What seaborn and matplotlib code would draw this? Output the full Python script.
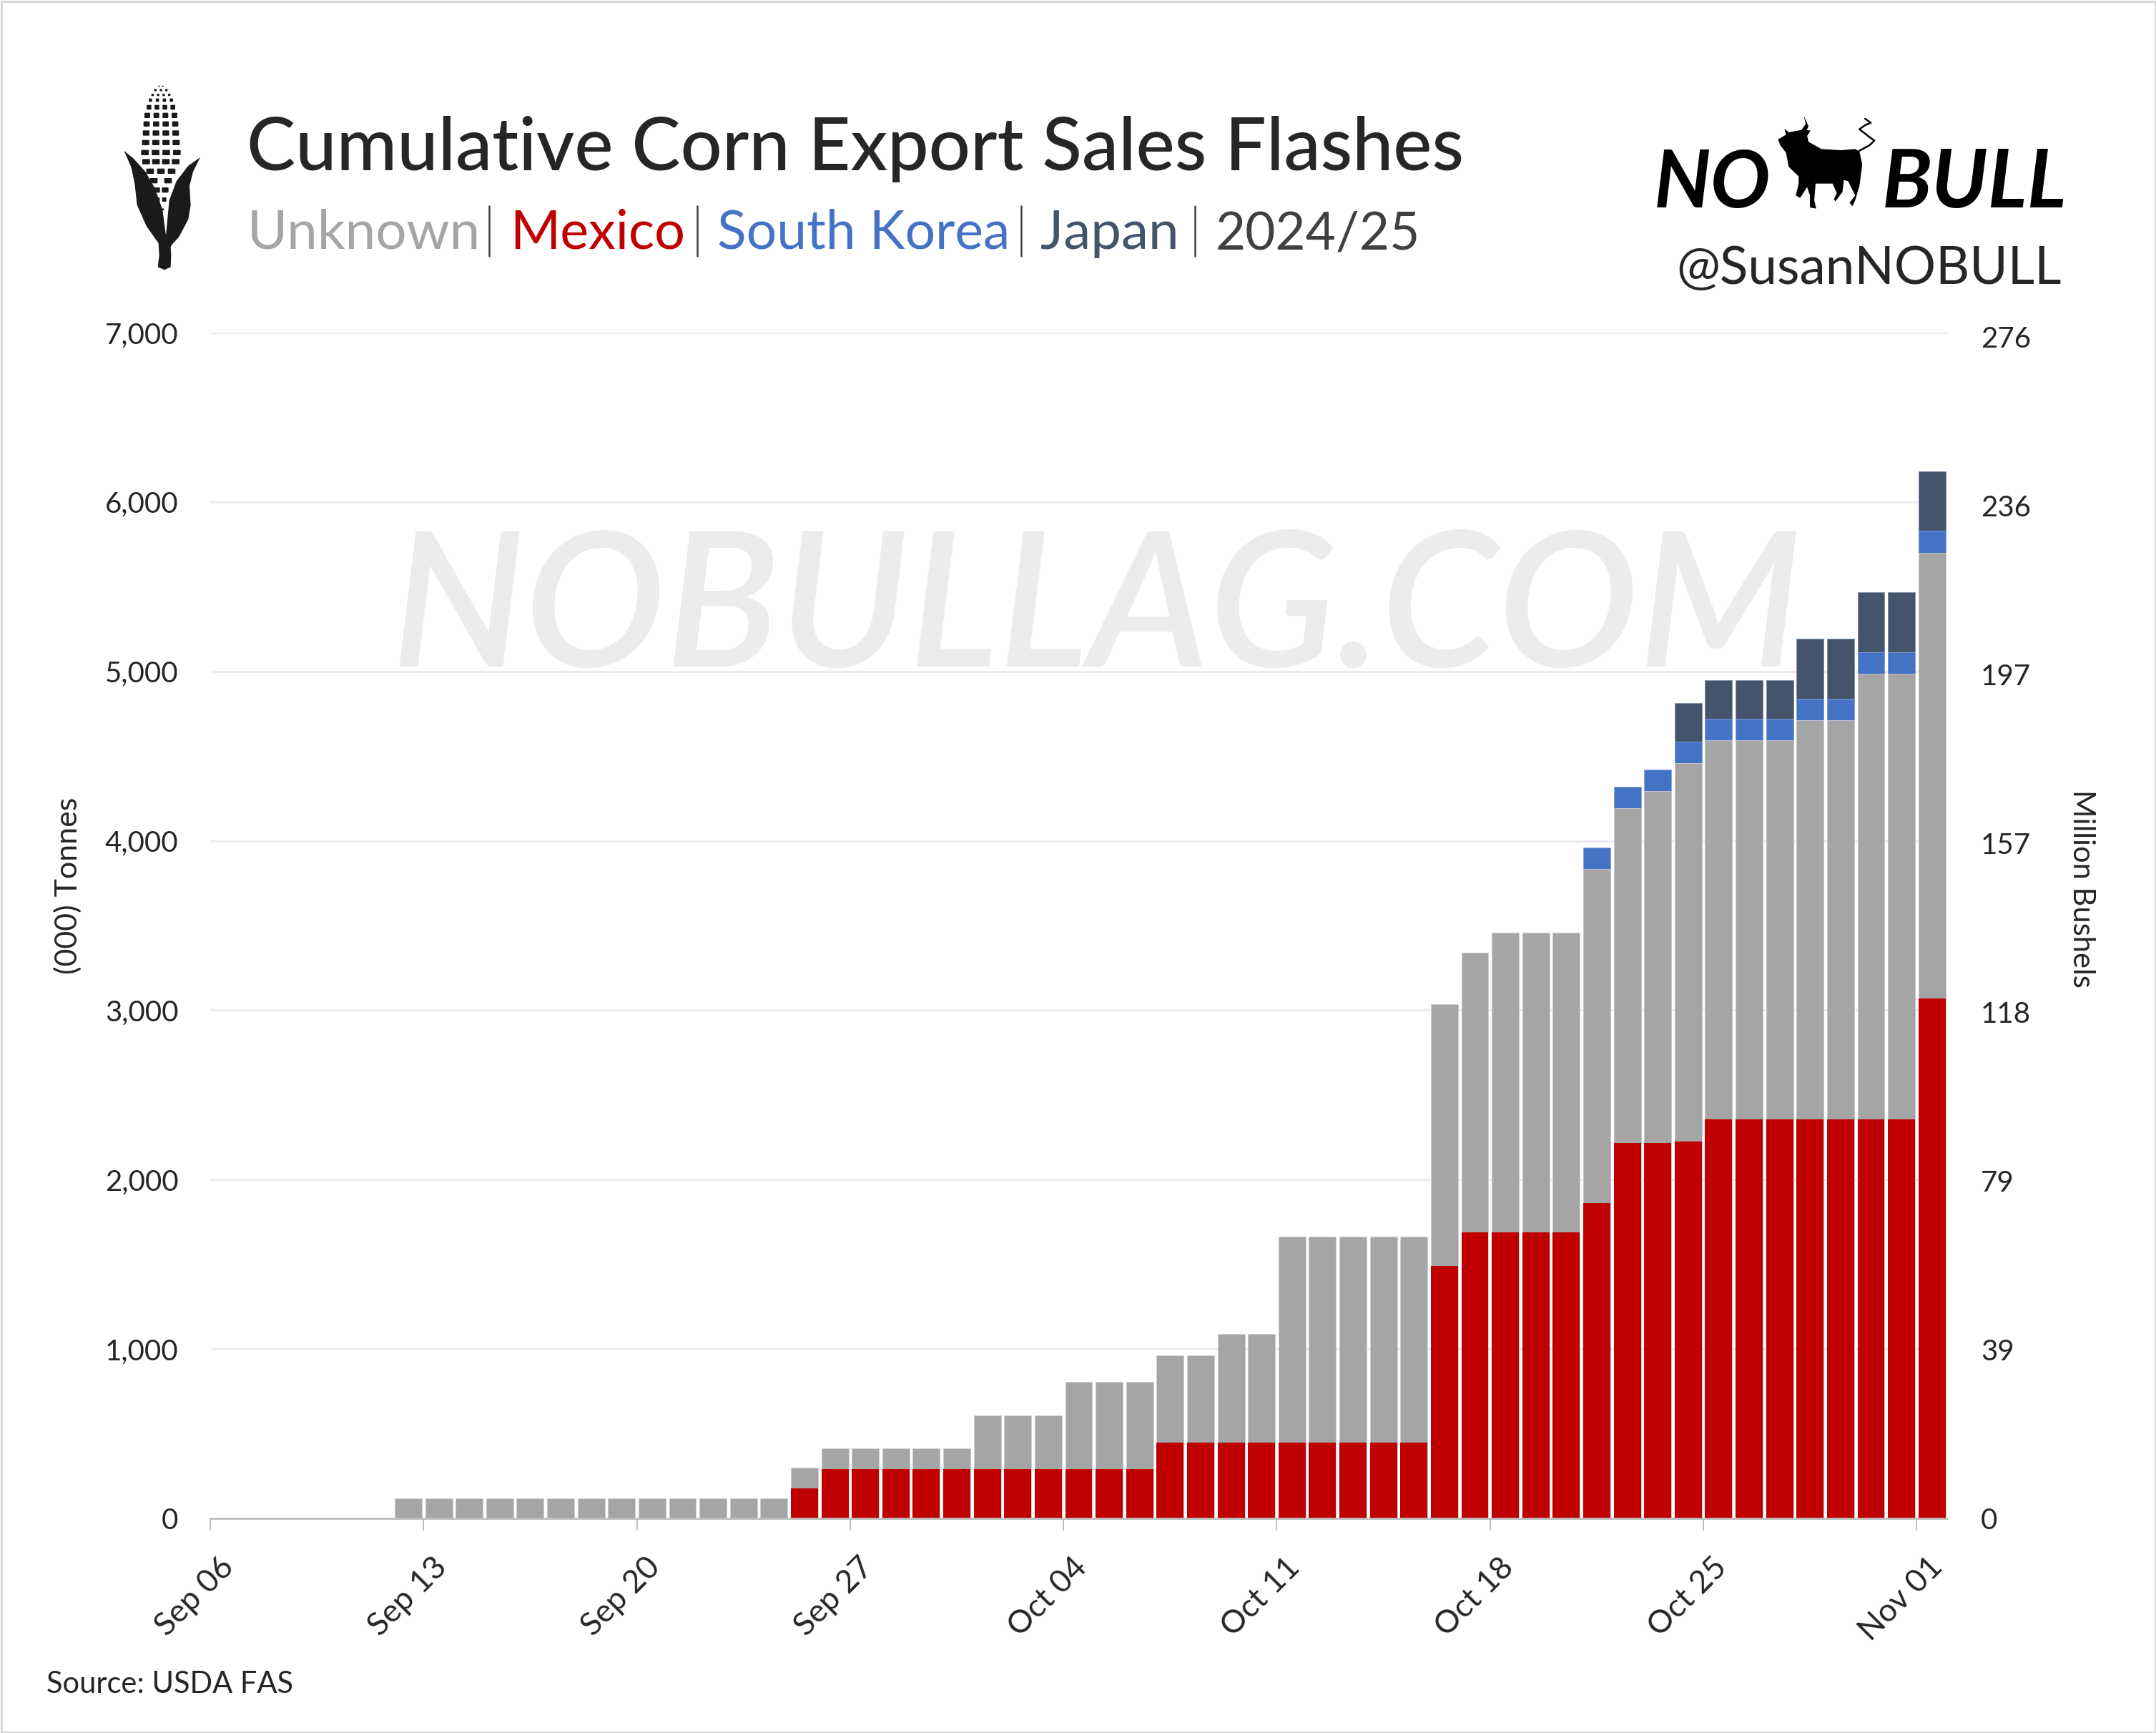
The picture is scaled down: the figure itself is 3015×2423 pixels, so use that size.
import numpy as np
import pandas as pd
import matplotlib
matplotlib.use("Agg")
import matplotlib.pyplot as plt
import seaborn as sns
from matplotlib.patches import Polygon, Rectangle, FancyBboxPatch
from matplotlib.transforms import ScaledTranslation

# cumulative sales by destination, (000) tonnes, Sep 06 - Nov 01
dates = pd.date_range("2024-09-06", "2024-11-01").strftime("%b %d").tolist()
mexico = [0, 0, 0, 0, 0, 0,
          0, 0, 0, 0, 0, 0, 0, 0, 0, 0, 0, 0, 0,
          177, 292, 292, 292, 292, 292, 292, 292, 292, 292, 292, 292,
          448, 448, 448, 448, 448, 448, 448, 448, 448,
          1492, 1687, 1687, 1687, 1687, 1860, 2217, 2217, 2225,
          2355, 2355, 2355, 2355, 2355, 2355, 2355, 3070]
unknown = [0, 0, 0, 0, 0, 0,
           120, 120, 120, 120, 120, 120, 120, 120, 120, 120, 120, 120, 120,
           121, 121, 121, 121, 121, 121, 316, 316, 316, 514, 514, 514,
           513, 513, 641, 641, 1217, 1217, 1217, 1217, 1217,
           1545, 1651, 1772, 1772, 1772, 1972, 1974, 2076, 2232,
           2237, 2237, 2237, 2356, 2356, 2630, 2630, 2630]
korea = [0, 0, 0, 0, 0, 0,
         0, 0, 0, 0, 0, 0, 0, 0, 0, 0, 0, 0, 0,
         0, 0, 0, 0, 0, 0, 0, 0, 0, 0, 0, 0,
         0, 0, 0, 0, 0, 0, 0, 0, 0,
         0, 0, 0, 0, 0, 129, 129, 129, 129,
         129, 129, 129, 129, 129, 129, 129, 129]
japan = [0, 0, 0, 0, 0, 0,
         0, 0, 0, 0, 0, 0, 0, 0, 0, 0, 0, 0, 0,
         0, 0, 0, 0, 0, 0, 0, 0, 0, 0, 0, 0,
         0, 0, 0, 0, 0, 0, 0, 0, 0,
         0, 0, 0, 0, 0, 0, 0, 0, 228,
         228, 228, 228, 351, 351, 353, 353, 353]

tonne_ticks = [0, 1000, 2000, 3000, 4000, 5000, 6000, 7000]
bushel_ticks = [0, 39.37, 78.74, 118.1, 157.5, 196.8, 236.2, 275.6]
bushel_labels = ["0", "39", "79", "118", "157", "197", "236", "276"]

GREY, RED, BLUE, NAVY = "#A5A5A5", "#C00000", "#4472C4", "#44546A"
INK = "#262626"

sns.set_style("white")
plt.rcParams["font.family"] = ["Lato", "DejaVu Sans"]

W, H = 3015, 2423
fig = plt.figure(figsize=(W / 100, H / 100), dpi=100, facecolor="white")

# pixel-coordinate layer for the header, logos and watermark
bg = fig.add_axes([0, 0, 1, 1], zorder=1)
bg.set_xlim(0, W)
bg.set_ylim(H, 0)
bg.axis("off")

ax = fig.add_axes([294 / W, 1 - 2123 / H, (2723 - 294) / W, (2123 - 465) / H], zorder=2)
ax.patch.set_alpha(0)

bg.text(1533, 932, "NOBULLAG.COM", style="italic", weight="semibold", fontsize=189,
        color="#ececec", ha="center", va="baseline")

df = pd.DataFrame({"date": dates, "mexico": mexico, "unknown": unknown,
                   "korea": korea, "japan": japan})
df["top_mexico"] = df["mexico"]
df["top_unknown"] = df["top_mexico"] + df["unknown"]
df["top_korea"] = df["top_unknown"] + df["korea"]
df["top_japan"] = df["top_korea"] + df["japan"]

# tallest layer first, each one painted over by the next
layers = [("japan", NAVY, "#7f8ea6", 0.6), ("korea", BLUE, "#8aa5dc", 0.6),
          ("unknown", GREY, "#cfcfcf", 0.6), ("mexico", RED, "none", 0)]
for name, color, edge, lw in layers:
    sns.barplot(data=df[df[name] > 0], x="date", y="top_" + name, order=dates,
                color=color, saturation=1, width=0.89, edgecolor=edge, linewidth=lw,
                ax=ax, zorder=3)

ax.set_xlim(-0.5, 56.5)
ax.set_ylim(0, 7000)
ax.set_xlabel("")
ax.set_ylabel("")
ax.set_yticks(tonne_ticks, [f"{v:,}" for v in tonne_ticks])
ax.tick_params(axis="y", length=0, pad=32, labelsize=29, labelcolor=INK)
ax.set_axisbelow(True)
ax.grid(axis="y", color="#ececec", linewidth=2.2)
ax.grid(axis="x", visible=False)

tick_idx = np.arange(0, 57, 7)
ax.set_xticks(tick_idx - 0.5, [dates[i] for i in tick_idx])
ax.tick_params(axis="x", length=12, width=1.4, color="#bfbfbf", pad=22, labelsize=32,
               labelcolor=INK, bottom=True)
shift = ScaledTranslation(-22 / 100, 0, fig.dpi_scale_trans)
for lab in ax.get_xticklabels():
    lab.set_rotation(45)
    lab.set_ha("center")
    lab.set_transform(lab.get_transform() + shift)

for side in ["top", "left", "right"]:
    ax.spines[side].set_visible(False)
ax.spines["bottom"].set_color("#bfbfbf")
ax.spines["bottom"].set_linewidth(2)
ax.spines["bottom"].set_zorder(5)

ax2 = ax.twinx()
ax2.set_ylim(0, 276.6)
ax2.set_yticks(bushel_ticks, bushel_labels)
ax2.tick_params(axis="y", length=0, pad=34, labelsize=29, labelcolor=INK)
ax2.grid(False)
for side in ax2.spines:
    ax2.spines[side].set_visible(False)

bg.text(95, 1238, "(000) Tonnes", fontsize=31, color=INK, rotation=90, ha="center", va="center")
bg.text(2911, 1242, "Million Bushels", fontsize=30, color=INK, rotation=270, ha="center", va="center")
bg.text(65, 2367, "Source: USDA FAS", fontsize=30, color=INK, va="baseline")

# header
bg.text(345, 238, "Cumulative Corn Export Sales Flashes", fontsize=73.7, weight="medium",
        color=INK, va="baseline")
sub = [(346, "Unknown", GREY, 55), (713, "Mexico", RED, 54.5), (1003, "South Korea", BLUE, 54),
       (1455, "Japan", NAVY, 55), (1700, "2024/25", "#404040", 52.5)]
for x, word, color, size in sub:
    bg.text(x, 348, word, fontsize=size, color=color, va="baseline")
for x in [684, 975, 1428, 1671]:
    bg.plot([x, x], [288, 358], color="#404040", lw=1.8)
bg.text(2883, 397, "@SusanNOBULL", fontsize=52.5, color=INK, ha="right", va="baseline")

# corn icon, outlined in the 3x zoom grid of the icon
def cx(v): return 150 + np.asarray(v) / 3
def cy(v): return 100 + np.asarray(v) / 3

kernel_rows = [(62, 8, 3, 2), (78, 23, 5, 3), (98, 35, 5, 4), (120, 44, 7, 4),
               (150, 50, 10, 4), (184, 57, 12, 4), (220, 60, 13, 4), (258, 62, 14, 4),
               (298, 64, 15, 4), (340, 67, 16, 4), (378, 62, 16, 4), (418, 45, 16, 3),
               (458, 30, 16, 2), (497, 18, 14, 2), (537, 14, 9, 2), (578, 9, 4, 2)]
for zy, spread, half, n in kernel_rows:
    for zx in np.linspace(225 - spread, 225 + spread, n):
        bg.add_patch(FancyBboxPatch((cx(zx - half) + 1, cy(zy - min(half, 11)) + 1),
                                    2 * half / 3 - 2, 2 * min(half, 11) / 3 - 2,
                                    boxstyle="round,pad=1", fc="#1a1a1a", ec="none"))
left_leaf = [(70, 332), (110, 365), (160, 420), (200, 490), (232, 580), (245, 680),
             (248, 690), (265, 720), (268, 770), (266, 820), (240, 832), (212, 820),
             (218, 770), (215, 720), (165, 650), (125, 560), (115, 470), (100, 400)]
right_leaf = [(390, 360), (340, 395), (290, 460), (260, 540), (247, 680), (240, 700),
              (250, 760), (272, 725), (300, 695), (340, 620), (350, 560), (345, 480), (360, 420)]
for leaf in (left_leaf, right_leaf):
    pts = np.array(leaf, dtype=float)
    bg.add_patch(Polygon(np.c_[cx(pts[:, 0]), cy(pts[:, 1])], fc="#1a1a1a", ec="none"))

# logo
bg.text(2313, 290, "NO", style="italic", weight="bold", fontsize=80, color="black", va="baseline")
bg.text(2632, 290, "BULL", style="italic", weight="bold", fontsize=82, color="black", va="baseline")
bull = [(497, 165), (525, 145), (520, 120), (535, 135), (580, 125), (595, 100), (588, 65),
        (605, 110), (598, 125), (612, 128), (600, 150), (605, 175), (650, 205), (720, 210),
        (770, 205), (785, 215), (795, 270), (785, 360), (770, 420), (760, 445), (750, 430),
        (770, 400), (745, 340), (730, 335), (725, 385), (700, 425), (695, 415), (705, 390),
        (690, 350), (630, 350), (625, 420), (632, 455), (610, 450), (610, 400), (600, 365),
        (575, 410), (560, 400), (570, 350), (570, 320), (535, 280), (525, 220), (505, 190)]
tail = [(785, 212), (820, 190), (838, 170), (815, 150), (785, 122), (805, 105), (825, 95), (805, 78)]
def bx(v): return 2290 + np.asarray(v) / 2.53
def by(v): return 140 + np.asarray(v) / 3
pts = np.array(bull, dtype=float)
bg.add_patch(Polygon(np.c_[bx(pts[:, 0]), by(pts[:, 1])], fc="black", ec="none"))
pts = np.array(tail, dtype=float)
bg.plot(bx(pts[:, 0]), by(pts[:, 1]), color="black", lw=1.8)

# frame around the whole picture
bg.add_patch(Rectangle((1.5, 1.5), W - 3, H - 3, fc="none", ec="#d9d9d9", lw=2.2))

fig.savefig("out.png", dpi=100)
